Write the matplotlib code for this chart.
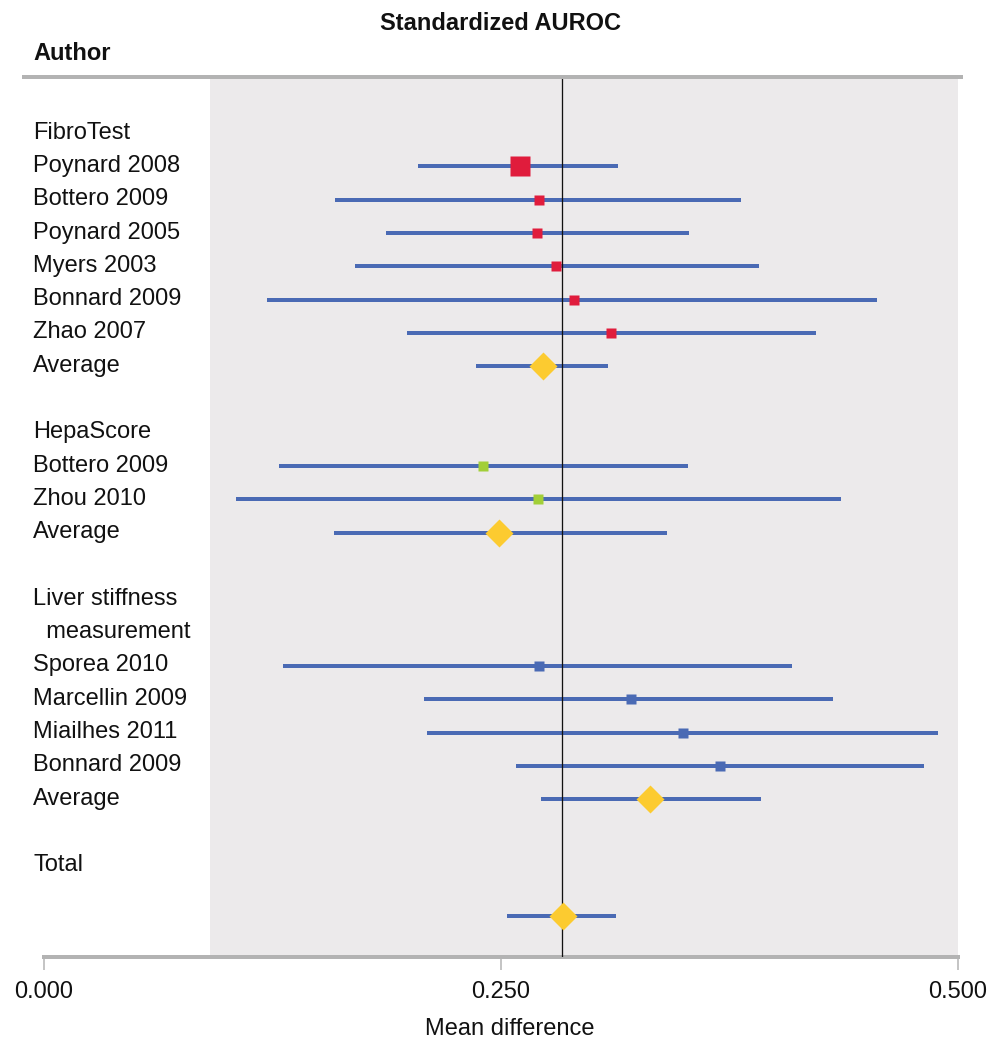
import matplotlib
matplotlib.use("Agg")
import matplotlib.pyplot as plt
from matplotlib.lines import Line2D
from matplotlib.transforms import blended_transform_factory

plt.rcParams['font.family'] = ['Liberation Sans', 'DejaVu Sans']

# ---------------- data ----------------
row_labels = ["FibroTest", "Poynard 2008", "Bottero 2009", "Poynard 2005", "Myers 2003",
              "Bonnard 2009", "Zhao 2007", "Average", "",
              "HepaScore", "Bottero 2009", "Zhou 2010", "Average", "",
              "Liver stiffness", "  measurement", "Sporea 2010", "Marcellin 2009",
              "Miailhes 2011", "Bonnard 2009", "Average", "", "Total"]

study_rows = [1, 2, 3, 4, 5, 6, 7, 10, 11, 12, 16, 17, 18, 19, 20, 23.5]
study_est = [0.2604, 0.2708, 0.2697, 0.2801, 0.2899, 0.3102, 0.2728,
             0.2402, 0.2702, 0.2489,
             0.2708, 0.3212, 0.3496, 0.3698, 0.3315,
             0.2839]
study_lo = [0.2046, 0.1592, 0.1871, 0.1701, 0.1220, 0.1988, 0.2363,
            0.1286, 0.1049, 0.1586,
            0.1310, 0.2079, 0.2095, 0.2580, 0.2719,
            0.2533]
study_hi = [0.3138, 0.3813, 0.3528, 0.3911, 0.4557, 0.4223, 0.3085,
            0.3525, 0.4360, 0.3408,
            0.4092, 0.4314, 0.4891, 0.4812, 0.3922,
            0.3129]
study_kind = ["fibro"] * 6 + ["avg"] + ["hepa"] * 2 + ["avg"] + ["lsm"] * 4 + ["avg"] + ["avg"]

ref_line = 0.2832
shade_start = 0.0908
xticks = [0.0, 0.25, 0.5]
xtick_labels = ["0.000", "0.250", "0.500"]

# ---------------- style ----------------
W, H = 1000, 1041
LINE_C = '#4A6AB4'
GREY = '#B3B3B3'
BG = '#ECEAEB'
kind_color = {"fibro": '#E01C3C', "hepa": '#A2CF38', "lsm": '#4A6AB4', "avg": '#FCCB30'}
px = 0.72  # points per pixel at dpi 100
diamond = [(0, 1), (1, 0), (0, -1), (-1, 0), (0, 1)]

fig = plt.figure(figsize=(W / 100, H / 100), dpi=100)
ax_top, ax_bot = 78.5, 956.5
ax = fig.add_axes([44 / W, 1 - ax_bot / H, (958 - 44) / W, (ax_bot - ax_top) / H])
row0, rowstep = 133.2, 33.3
ax.set_ylim((ax_bot - row0) / rowstep, (ax_top - row0) / rowstep)
ax.set_xlim(0, 0.5)

ax.axvspan(shade_start, 0.5, color=BG, zorder=0, lw=0)

for r, lo, hi in zip(study_rows, study_lo, study_hi):
    ax.hlines(r, lo, hi, color=LINE_C, lw=4 * px, zorder=2)

ax.axvline(ref_line, color='#111111', lw=1.3 * px, zorder=3)

for i, (r, e, k) in enumerate(zip(study_rows, study_est, study_kind)):
    if k == "avg":
        ax.plot([e], [r], marker=diamond, ms=28 * px, color=kind_color[k], mec='none', zorder=4)
    else:
        size = 20 if i == 0 else 10
        ax.plot([e], [r], marker='s', ms=size * px, color=kind_color[k], mec='none', zorder=4)

# left labels (baseline ~5.5 px below the row centre)
trans = blended_transform_factory(fig.transFigure, ax.transData)
for i, lab in enumerate(row_labels):
    if lab:
        ax.text(33 / W, i + 5.5 / rowstep, lab, transform=trans, ha='left', va='baseline',
                fontsize=17, color='#111111', clip_on=False)

# spines and ticks
for s in ['top', 'left', 'right']:
    ax.spines[s].set_visible(False)
ax.spines['bottom'].set_color(GREY)
ax.spines['bottom'].set_linewidth(4 * px)
ax.set_yticks([])
ax.set_xticks(xticks)
ax.set_xticklabels(xtick_labels, fontsize=17, color='#111111')
ax.tick_params(axis='x', direction='out', length=13 * px, width=1.5 * px, color=GREY, pad=12 * px)

# titles
fig.text(0.5, 1 - 24 / H, "Standardized AUROC", ha='center', va='center', fontsize=17,
         fontweight='bold', color='#111111')
fig.text(33 / W, 1 - 54 / H, "Author", ha='left', va='center', fontsize=17,
         fontweight='bold', color='#111111')
fig.text(510 / W, 1 - 1029 / H, "Mean difference", ha='center', va='center', fontsize=17,
         color='#111111')

# top rule
fig.add_artist(Line2D([24 / W, 961 / W], [1 - 76.5 / H] * 2, lw=4 * px, color=GREY))

fig.savefig("out.png", dpi=100)
